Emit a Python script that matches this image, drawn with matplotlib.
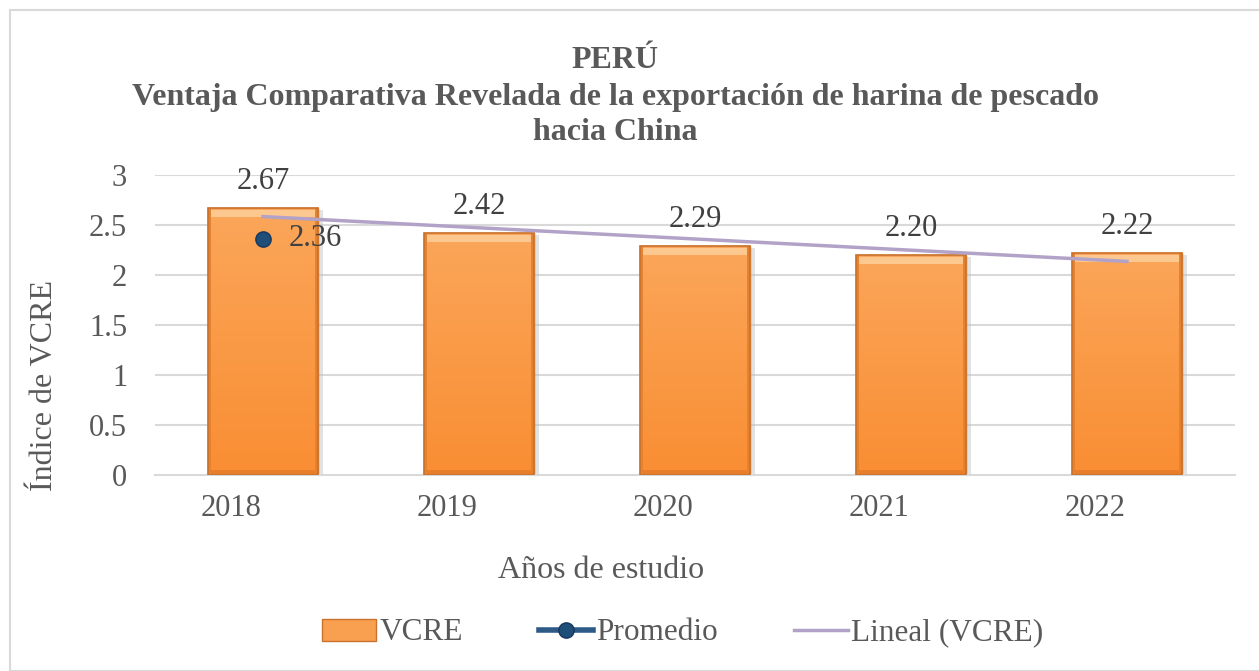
import matplotlib
matplotlib.use("Agg")
import matplotlib.pyplot as plt
import matplotlib.transforms as mtransforms
import numpy as np
from matplotlib.patches import Rectangle, Patch
from matplotlib.lines import Line2D
from matplotlib.colors import LinearSegmentedColormap

years = ["2018", "2019", "2020", "2021", "2022"]
vcre = [2.67, 2.42, 2.29, 2.20, 2.22]
promedio_value = 2.36
yticks = [0, 0.5, 1, 1.5, 2, 2.5, 3]
ytick_labels = ["0", "0.5", "1", "1.5", "2", "2.5", "3"]

plt.rcParams['font.family'] = ['Liberation Serif', 'DejaVu Serif']
TXT = '#595959'

W, H = 1259, 671
fig = plt.figure(figsize=(W / 100, H / 100), dpi=100)
fig.patches.append(Rectangle((10 / W, 0), 1.1, 1 - 10 / H, transform=fig.transFigure,
                             fill=False, edgecolor='#D9D9D9', linewidth=1.5))

ax = fig.add_axes([155 / W, 1 - 475 / H, 1080 / W, 300 / H])
x = np.arange(len(years))
ax.set_xlim(-0.5, len(years) - 0.5)
ax.set_ylim(0, 3)

for yt in yticks[1:]:
    ax.axhline(yt, color='#D9D9D9', linewidth=1.5, zorder=0)

bw = 0.51
# shadows
ax.bar(x + 0.012, vcre, width=bw + 0.02, bottom=-0.02, color='#BFBFBF', alpha=0.45, zorder=1, linewidth=0)
bars = ax.bar(x, vcre, width=bw, color='#F79646', edgecolor='#C8722E', linewidth=1.0, zorder=2)

grad = np.linspace(0, 1, 256).reshape(-1, 1)
cmap = LinearSegmentedColormap.from_list('og', ['#F98E33', '#FBA65A'])
for b in bars:
    x0, w, h = b.get_x(), b.get_width(), b.get_height()
    im = ax.imshow(grad, extent=[x0, x0 + w, 0, h], origin='lower', cmap=cmap, aspect='auto', zorder=2.5)
    im.set_clip_path(b)
    ax.add_patch(Rectangle((x0 + 0.01, h - 0.09), w - 0.02, 0.07, facecolor='#FCC88F', edgecolor='none', zorder=2.6))
    ax.add_patch(Rectangle((x0 + 0.01, 0.0), w - 0.02, 0.05, facecolor='#E67E2C', edgecolor='none', zorder=2.6))
    ax.add_patch(Rectangle((x0, 0), 0.012, h, facecolor='#E58230', edgecolor='none', zorder=2.6))
    ax.add_patch(Rectangle((x0 + w - 0.012, 0), 0.012, h, facecolor='#E58230', edgecolor='none', zorder=2.6))
    ax.add_patch(Rectangle((x0, 0), w, h, facecolor='none', edgecolor='#C8722E', linewidth=1.2, zorder=2.7))

for xi, v in zip(x, vcre):
    ax.text(xi, v + 0.12, f"{v:.2f}", ha='center', va='bottom', fontsize=22, color='#404040', zorder=5)

# linear trend
coef = np.polyfit(x, vcre, 1)
ax.plot(x, np.polyval(coef, x), color='#B3A2C7', linewidth=2.5, zorder=3)

# promedio point
ax.plot([0], [promedio_value], marker='o', markersize=11, color='#1F4E79',
        markeredgecolor='#17375E', linestyle='none', zorder=4)
ax.text(0.12, promedio_value, f"{promedio_value:.2f}", ha='left', va='center', fontsize=22, color='#404040', zorder=5)

ax.set_xticks(x)
ax.set_xticklabels(years)
ax.set_yticks(yticks)
ax.set_yticklabels(ytick_labels)
ax.tick_params(axis='both', length=0, labelsize=22, labelcolor=TXT)
ax.tick_params(axis='x', pad=14)
ax.tick_params(axis='y', pad=20)
shift = mtransforms.ScaledTranslation(-0.32, 0, fig.dpi_scale_trans)
for lab in ax.get_xticklabels():
    lab.set_transform(lab.get_transform() + shift)
for s in ['top', 'right', 'left']:
    ax.spines[s].set_visible(False)
ax.spines['bottom'].set_color('#D9D9D9')
ax.spines['bottom'].set_linewidth(1.5)

fig.text(615 / W, 1 - 60 / H, "PERÚ", ha='center', va='center', fontsize=23, fontweight='bold', color=TXT)
fig.text(615 / W, 1 - 98 / H, "Ventaja Comparativa Revelada de la exportación de harina de pescado",
         ha='center', va='center', fontsize=23, fontweight='bold', color=TXT)
fig.text(615 / W, 1 - 133 / H, "hacia China", ha='center', va='center', fontsize=23, fontweight='bold', color=TXT)

fig.text(45 / W, 1 - 385 / H, "Índice de VCRE", rotation=90, ha='center', va='center', fontsize=23, color=TXT)
fig.text(601 / W, 1 - 571 / H, "Años de estudio", ha='center', va='center', fontsize=23, color=TXT)

handles = [Patch(facecolor='#F9A050', edgecolor='#C8722E'),
           Line2D([0], [0], color='#2E5A88', linewidth=4, marker='o', markersize=11,
                  markerfacecolor='#1F4E79', markeredgecolor='#17375E'),
           Line2D([0], [0], color='#B3A2C7', linewidth=2.5)]
leg = fig.legend(handles, ["VCRE", "Promedio", "Lineal (VCRE)"], loc='center',
                 bbox_to_anchor=(683 / W, 1 - 633 / H), ncol=3, frameon=False,
                 fontsize=22.5, labelcolor=TXT, handlelength=1.72, handletextpad=0.1,
                 columnspacing=2.45)

fig.savefig("out.png", dpi=100)
